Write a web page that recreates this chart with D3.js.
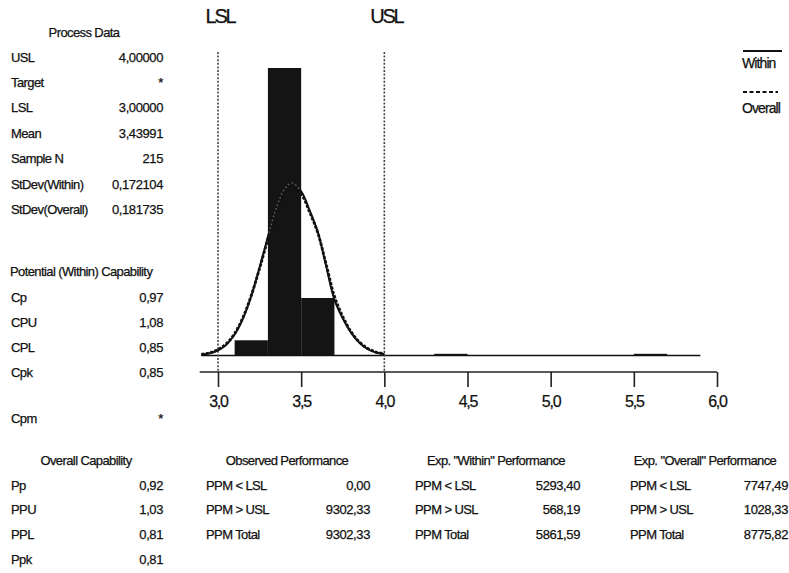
<!DOCTYPE html>
<html>
<head>
<meta charset="utf-8">
<script src="https://cdnjs.cloudflare.com/ajax/libs/d3/7.8.5/d3.min.js"></script>
<style>
  body { margin: 0; background: #fff; }
  svg text { font-family: "Liberation Sans", Arial, sans-serif; fill: #111; stroke: #111; stroke-width: 0.25px; }
</style>
</head>
<body>
<script>
// Data

var w = 789;
var h = 573;

var lsl = 3.0;
var usl = 4.0;

var binStart = [3.1, 3.3, 3.5, 4.3, 5.5];
var binEnd = [3.3, 3.5, 3.7, 4.5, 5.7];
var counts = [9, 170, 34, 1, 1];

// fitted curves (height in counts)
var curveX = [2.90, 2.95, 3.00, 3.05, 3.10, 3.15, 3.20, 3.25, 3.30, 3.35, 3.40, 3.445,
  3.50, 3.55, 3.60, 3.65, 3.70, 3.75, 3.80, 3.85, 3.90, 3.95, 4.00];
var withinY = [0.5, 1.3, 3.1, 6.4, 12.4, 21.8, 35.2, 52, 70, 87, 98.4, 102,
  97, 86, 73, 53, 33, 22, 13.5, 7.5, 3.8, 1.8, 0.8];
var overallY = [0.7, 1.6, 3.5, 7, 13, 22.5, 35.5, 51.5, 69, 85, 96, 100,
  95.5, 85, 72.5, 54, 35, 23, 14, 8, 4.2, 2, 1];

var xTicks = [3.0, 3.5, 4.0, 4.5, 5.0, 5.5, 6.0];

var processLabels = ["USL", "Target", "LSL", "Mean", "Sample N", "StDev(Within)", "StDev(Overall)"];
var processValues = ["4,00000", "*", "3,00000", "3,43991", "215", "0,172104", "0,181735"];

var withinCapLabels = ["Cp", "CPU", "CPL", "Cpk"];
var withinCapValues = ["0,97", "1,08", "0,85", "0,85"];
var cpmValue = "*";

var overallCapLabels = ["Pp", "PPU", "PPL", "Ppk"];
var overallCapValues = ["0,92", "1,03", "0,81", "0,81"];

var ppmLabels = ["PPM < LSL", "PPM > USL", "PPM Total"];
var observedPPM = ["0,00", "9302,33", "9302,33"];
var expWithinPPM = ["5293,40", "568,19", "5861,59"];
var expOverallPPM = ["7747,49", "1028,33", "8775,82"];

/*
-----SVG-----
*/
var svg = d3.select("body")
  .append("svg")
  .attr("width", w)
  .attr("height", h);

var x = d3.scaleLinear().domain([3, 6]).range([218, 717]);
var y = d3.scaleLinear().domain([0, 170]).range([355.5, 68]);

/*
----Histogram----
*/
svg.selectAll(".bar")
  .data(counts)
  .enter()
  .append("rect")
  .attr("class", "bar")
  .attr("x", function(d, i) { return x(binStart[i]); })
  .attr("width", function(d, i) { return x(binEnd[i]) - x(binStart[i]); })
  .attr("y", function(d) { return y(d); })
  .attr("height", function(d) { return y(0) - y(d); })
  .attr("fill", "#141414");

// baseline of the histogram
svg.append("line")
  .attr("x1", x(2.9)).attr("x2", x(5.9))
  .attr("y1", y(0)).attr("y2", y(0))
  .attr("stroke", "#111").attr("stroke-width", 1.6);

/*
----Spec limits----
*/
var specs = [["LSL", lsl], ["USL", usl]];

svg.selectAll(".spec")
  .data(specs)
  .enter()
  .append("line")
  .attr("class", "spec")
  .attr("x1", function(d) { return x(d[1]); })
  .attr("x2", function(d) { return x(d[1]); })
  .attr("y1", 52)
  .attr("y2", 372)
  .attr("stroke", "#444")
  .attr("stroke-width", 1.6)
  .attr("stroke-dasharray", "2,1.6");

svg.selectAll(".specLabel")
  .data(specs)
  .enter()
  .append("text")
  .attr("class", "specLabel")
  .attr("x", function(d) { return x(d[1]) + 2; })
  .attr("y", 16)
  .attr("text-anchor", "middle")
  .attr("dominant-baseline", "central")
  .attr("font-size", 20)
  .attr("letter-spacing", "-2.2px")
  .text(function(d) { return d[0]; });

/*
----Curves----
*/
var withinLine = d3.line()
  .x(function(d, i) { return x(curveX[i]); })
  .y(function(d) { return y(d); })
  .curve(d3.curveCatmullRom);

svg.append("path")
  .attr("d", withinLine(withinY))
  .attr("fill", "none")
  .attr("stroke", "#111")
  .attr("stroke-width", 2);

svg.append("path")
  .attr("d", withinLine(overallY))
  .attr("fill", "none")
  .attr("stroke", "#111")
  .attr("stroke-width", 2.8)
  .attr("stroke-dasharray", "3,1.5");

// the curve shows faintly through the tall bar
svg.append("clipPath")
  .attr("id", "barClip")
  .append("rect")
  .attr("x", x(binStart[1]) + 1)
  .attr("width", x(binEnd[1]) - x(binStart[1]) - 2)
  .attr("y", y(counts[1]))
  .attr("height", y(0) - y(counts[1]));

svg.append("path")
  .attr("d", withinLine(withinY))
  .attr("clip-path", "url(#barClip)")
  .attr("fill", "none")
  .attr("stroke", "#555")
  .attr("stroke-width", 1.5)
  .attr("stroke-dasharray", "2,2");

/*
----Axis----
*/
svg.append("line")
  .attr("x1", x(2.89)).attr("x2", x(6))
  .attr("y1", 372).attr("y2", 372)
  .attr("stroke", "#222").attr("stroke-width", 1.6);

var axis = svg.append("g")
  .attr("transform", "translate(0,372)")
  .call(d3.axisBottom(x)
    .tickValues(xTicks)
    .tickSize(15)
    .tickSizeOuter(0)
    .tickPadding(9)
    .tickFormat(function(d) { return d3.format(".1f")(d).replace(".", ","); }));

axis.select(".domain").remove();
axis.selectAll(".tick line").attr("stroke", "#222").attr("stroke-width", 1.6);
axis.selectAll(".tick text")
  .attr("font-size", 16)
  .attr("letter-spacing", "-1.2px")
  .attr("fill", "#111")
  .style("font-family", "'Liberation Sans', Arial, sans-serif");

/*
----Legend----
*/
svg.append("line")
  .attr("x1", 743).attr("x2", 782).attr("y1", 51).attr("y2", 51)
  .attr("stroke", "#111").attr("stroke-width", 1.8);
svg.append("text")
  .attr("x", 742).attr("y", 63)
  .attr("dominant-baseline", "central")
  .attr("font-size", 14).attr("letter-spacing", "-0.9px")
  .text("Within");
svg.append("line")
  .attr("x1", 743).attr("x2", 778).attr("y1", 92).attr("y2", 92)
  .attr("stroke", "#111").attr("stroke-width", 1.8)
  .attr("stroke-dasharray", "4,2.5");
svg.append("text")
  .attr("x", 742).attr("y", 108)
  .attr("dominant-baseline", "central")
  .attr("font-size", 14).attr("letter-spacing", "-0.9px")
  .text("Overall");

/*
----Tables----
*/
function header(txt, cx, cy, anchor) {
  svg.append("text")
    .attr("x", cx).attr("y", cy)
    .attr("text-anchor", anchor || "middle")
    .attr("dominant-baseline", "central")
    .attr("font-size", 13)
    .attr("letter-spacing", "-0.6px")
    .text(txt);
}

function table(labels, values, lx, rx, y0, step) {
  var g = svg.append("g");
  g.selectAll(".lab")
    .data(labels)
    .enter()
    .append("text")
    .attr("x", lx)
    .attr("y", function(d, i) { return y0 + i * step; })
    .attr("dominant-baseline", "central")
    .attr("font-size", 13)
    .attr("letter-spacing", "-0.6px")
    .text(function(d) { return d; });
  g.selectAll(".val")
    .data(values)
    .enter()
    .append("text")
    .attr("x", rx)
    .attr("y", function(d, i) { return y0 + i * step; })
    .attr("text-anchor", "end")
    .attr("dominant-baseline", "central")
    .attr("font-size", 13)
    .attr("letter-spacing", "-0.4px")
    .text(function(d) { return d; });
}

header("Process Data", 84, 32);
table(processLabels, processValues, 11, 163, 57, 25.4);

header("Potential (Within) Capability", 10, 271, "start");
table(withinCapLabels, withinCapValues, 11, 163, 297, 25);
table(["Cpm"], [cpmValue], 11, 163, 418, 25);

header("Overall Capability", 86, 460);
table(overallCapLabels, overallCapValues, 11, 163, 485, 24.7);

header("Observed Performance", 287, 460);
table(ppmLabels, observedPPM, 206, 370, 485, 24.7);

header("Exp. \"Within\" Performance", 496, 460);
table(ppmLabels, expWithinPPM, 415, 580, 485, 24.7);

header("Exp. \"Overall\" Performance", 705, 460);
table(ppmLabels, expOverallPPM, 630, 788, 485, 24.7);
</script>
</body>
</html>
